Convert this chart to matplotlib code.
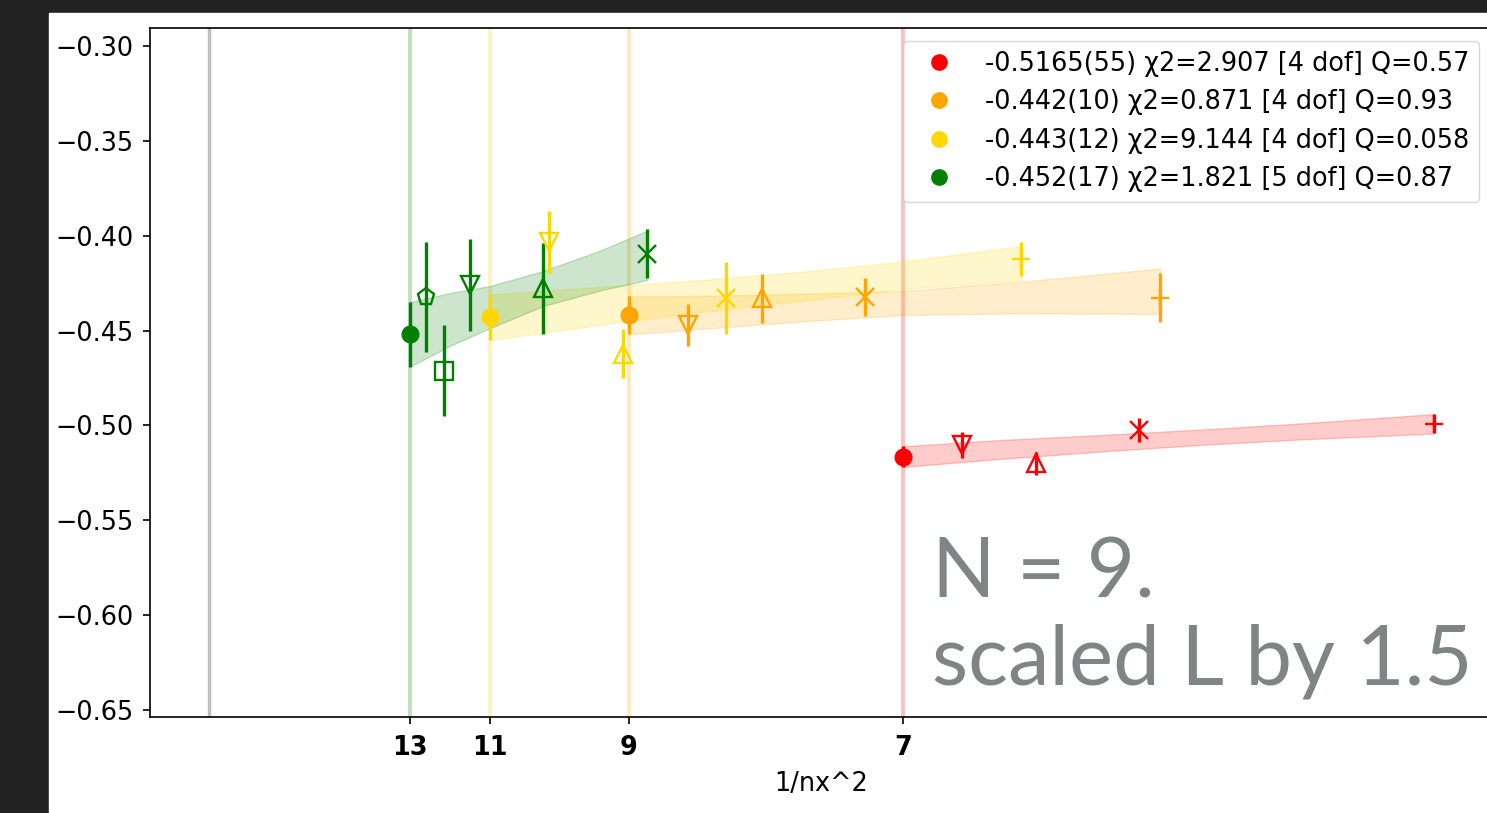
"""Continuum extrapolation of the fitted energy vs 1/nx^2 for four lattice sizes."""

import numpy as np
import matplotlib

matplotlib.use("Agg")
import matplotlib.pyplot as plt
from matplotlib.lines import Line2D
from matplotlib.patches import Rectangle

# extrapolation targets (one per series) and their fit results
NX = [7, 9, 11, 13]
COLORS = ["red", "orange", "gold", "green"]
EXTRAP_Y = [-0.5165, -0.442, -0.443, -0.452]
EXTRAP_ERR = [0.0055, 0.010, 0.012, 0.017]
LABELS = [
    "-0.5165(55) χ2=2.907 [4 dof] Q=0.57",
    "-0.442(10) χ2=0.871 [4 dof] Q=0.93",
    "-0.443(12) χ2=9.144 [4 dof] Q=0.058",
    "-0.452(17) χ2=1.821 [5 dof] Q=0.87",
]

# measured points
red_x = [0.02214, 0.02432, 0.02735, 0.03602]
red_y = [-0.5103, -0.5200, -0.5024, -0.4991]
red_err = [0.0070, 0.0062, 0.0062, 0.0051]

orange_x = [0.01410, 0.01627, 0.01929, 0.02796]
orange_y = [-0.4471, -0.4331, -0.4322, -0.4326]
orange_err = [0.0113, 0.0128, 0.0101, 0.0127]

gold_x = [0.01001, 0.01218, 0.01521, 0.02389]
gold_y = [-0.4033, -0.4622, -0.4329, -0.4124]
gold_err = [0.0163, 0.0129, 0.0189, 0.0091]

green_x = [0.006379, 0.006916, 0.007672, 0.009835, 0.012875]
green_y = [-0.4322, -0.4713, -0.4260, -0.4276, -0.4095]
green_err = [0.029, 0.024, 0.0244, 0.024, 0.0129]

# fit error bands (upper / lower edge)
red_band_x = [0.02041, 0.02326, 0.02620, 0.02914, 0.03208, 0.03602]
red_band_hi = [-0.5110, -0.5077, -0.5051, -0.5022, -0.4990, -0.4940]
red_band_lo = [-0.5219, -0.5177, -0.5138, -0.5103, -0.5074, -0.5043]

orange_band_x = [0.01235, 0.01444, 0.01738, 0.02041, 0.02388, 0.02796]
orange_band_hi = [-0.4320, -0.4318, -0.4306, -0.4292, -0.4242, -0.4173]
orange_band_lo = [-0.4520, -0.4492, -0.4453, -0.4418, -0.4409, -0.4413]

gold_band_x = [0.00826, 0.01150, 0.01444, 0.01738, 0.02041, 0.02389]
gold_band_hi = [-0.4310, -0.4270, -0.4234, -0.4191, -0.4136, -0.4054]
gold_band_lo = [-0.4550, -0.4471, -0.4402, -0.4344, -0.4281, -0.4234]

green_band_x = [0.00592, 0.00709, 0.00827, 0.00983, 0.01150, 0.01288]
green_band_hi = [-0.4350, -0.4302, -0.4265, -0.4186, -0.4079, -0.3974]
green_band_lo = [-0.4690, -0.4581, -0.4487, -0.4371, -0.4289, -0.4234]

POINTS = [(red_x, red_y, red_err), (orange_x, orange_y, orange_err),
          (gold_x, gold_y, gold_err), (green_x, green_y, green_err)]
BANDS = [(red_band_x, red_band_lo, red_band_hi),
         (orange_band_x, orange_band_lo, orange_band_hi),
         (gold_band_x, gold_band_lo, gold_band_hi),
         (green_band_x, green_band_lo, green_band_hi)]
MARKERS = [["v", "^", "x", "+"], ["v", "^", "x", "+"],
           ["v", "^", "x", "+"], ["p", "s", "v", "^", "x"]]

FS = 18.4


def main():
    W, H = 1487, 813
    fig = plt.figure(figsize=(W / 100, H / 100), dpi=100, facecolor="#222222")
    fig.add_artist(Rectangle((49 / W, 0), 1 - 49 / W, 1 - 13 / H,
                             transform=fig.transFigure, color="white", zorder=-5))
    ax = fig.add_axes([150 / W, 1 - 717 / H, (1492 - 150) / W, (717 - 28) / H])

    xs = [1.0 / n ** 2 for n in NX]
    ax.axvline(0.0, color="gray", alpha=0.5, lw=2.5, zorder=1)
    for c, x0 in zip(COLORS, xs):
        ax.axvline(x0, color=c, alpha=0.25, lw=2.8, zorder=1)

    for c, (bx, lo, hi) in zip(COLORS, BANDS):
        ax.fill_between(bx, lo, hi, color=c, alpha=0.2, lw=1, zorder=2)

    for c, (px, py, pe), mks in zip(COLORS, POINTS, MARKERS):
        for x, y, e, m in zip(px, py, pe, mks):
            ax.errorbar(x, y, yerr=e, fmt=m, color=c, mfc="none", ms=12.5,
                        mew=1.7, elinewidth=2.4, zorder=3)

    for c, x0, y0, e0 in zip(COLORS, xs, EXTRAP_Y, EXTRAP_ERR):
        ax.errorbar(x0, y0, yerr=e0, fmt="o", color=c, ms=12,
                    elinewidth=2.4, zorder=4)

    handles = [Line2D([], [], ls="none", marker="o", color=c, ms=11) for c in COLORS]
    ax.legend(handles, LABELS, loc="upper right", fontsize=FS, labelspacing=0.48)

    ax.set_xlim(-0.001725, 0.037721)
    ax.set_ylim(-0.65372, -0.29051)
    ax.set_xticks(xs)
    ax.set_xticklabels([str(n) for n in NX], fontweight="bold")
    ax.set_yticks([-0.65, -0.60, -0.55, -0.50, -0.45, -0.40, -0.35, -0.30])
    ax.tick_params(labelsize=FS, length=5, width=1.2)
    ax.tick_params(axis="y", pad=7)
    ax.tick_params(axis="x", pad=8)
    ax.set_xlabel("1/nx^2", fontsize=FS, labelpad=7)
    for s in ax.spines.values():
        s.set_linewidth(1.2)
    ax.spines["right"].set_visible(False)

    txt = dict(fontsize=60, family="Lato", color="#7f8485", va="baseline")
    fig.text(0.627, 1 - 597 / H, "N = 9.", **txt)
    fig.text(0.627, 1 - 684 / H, "scaled L by 1.5", **txt)

    fig.savefig("out.png", dpi=100, facecolor=fig.get_facecolor())


if __name__ == "__main__":
    main()
